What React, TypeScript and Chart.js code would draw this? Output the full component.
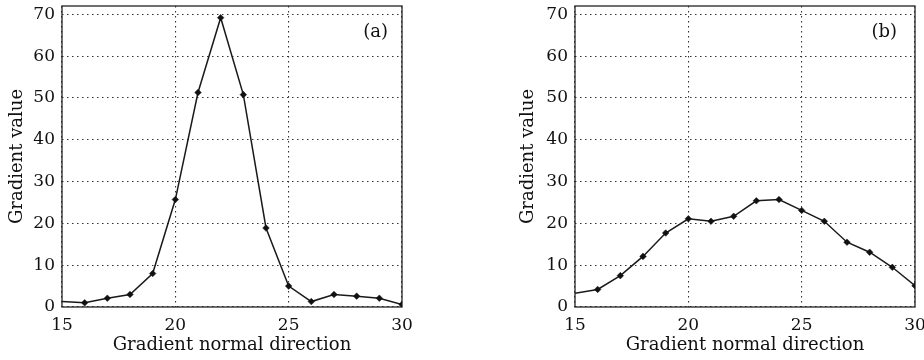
import React, { useEffect, useRef } from "react";
import { Chart, registerables } from "chart.js";

Chart.register(...registerables);

// ---- data ----
const xValues = [15, 16, 17, 18, 19, 20, 21, 22, 23, 24, 25, 26, 27, 28, 29, 30];
const gradientA = [1.3, 1.0, 2.1, 3.0, 8.0, 25.7, 51.3, 69.2, 50.8, 18.9, 5.0, 1.3, 3.0, 2.6, 2.1, 0.6];
const gradientB = [3.3, 4.2, 7.5, 12.1, 17.7, 21.1, 20.5, 21.7, 25.4, 25.7, 23.1, 20.5, 15.5, 13.1, 9.5, 5.1];
const xTicks = [15, 20, 25, 30];
const yTicks = [0, 10, 20, 30, 40, 50, 60, 70];
const panelLabels = ["(a)", "(b)"];
const xTitle = "Gradient normal direction";
const yTitle = "Gradient value";

const SERIF = '"DejaVu Serif", "Liberation Serif", serif';

const framePlugin = {
  id: "frameAndLabel",
  beforeDatasetsDraw(chart: any) {
    const { ctx, chartArea } = chart;
    const { left, top, right, bottom } = chartArea;
    ctx.save();
    ctx.strokeStyle = "#222";
    ctx.lineWidth = 1.3;
    ctx.strokeRect(left, top, right - left, bottom - top);
    ctx.restore();
  },
  afterDraw(chart: any, _args: any, opts: any) {
    const { ctx, chartArea } = chart;
    ctx.save();
    ctx.font = `18px ${SERIF}`;
    ctx.fillStyle = "#111";
    ctx.textAlign = "right";
    ctx.textBaseline = "middle";
    ctx.fillText(opts.label, chartArea.right - opts.inset, chartArea.top + 26);
    ctx.restore();
  },
};

type PanelProps = {
  values: number[];
  label: string;
  padLeft: number;
  padRight: number;
  yAxisWidth: number;
  titlePad: number;
  labelInset: number;
  left: number;
};

function Panel({ values, label, padLeft, padRight, yAxisWidth, titlePad, labelInset, left }: PanelProps) {
  const ref = useRef<HTMLCanvasElement>(null);
  useEffect(() => {
    if (!ref.current) return;
    const chart = new Chart(ref.current, {
      type: "line",
      data: {
        datasets: [
          {
            data: xValues.map((x, i) => ({ x, y: values[i] })),
            borderColor: "#1a1a1a",
            borderWidth: 1.5,
            pointStyle: "rectRot",
            pointRadius: xValues.map((_, i) => (i === 0 ? 0 : 3.3)),
            pointBackgroundColor: "#111",
            pointBorderColor: "#111",
            pointBorderWidth: 0.5,
            tension: 0,
            fill: false,
          },
        ],
      },
      options: {
        responsive: false,
        animation: false,
        events: [],
        layout: { padding: { top: 6, left: padLeft, right: padRight, bottom: 0 } },
        plugins: {
          legend: { display: false },
          tooltip: { enabled: false },
          frameAndLabel: { label, inset: labelInset },
        } as any,
        scales: {
          x: {
            type: "linear",
            min: 15,
            max: 30,
            afterBuildTicks: (s: any) => {
              s.ticks = xTicks.map((v) => ({ value: v }));
            },
            afterFit: (s: any) => {
              s.height = 53;
              s.paddingLeft = 0;
              s.paddingRight = 0;
            },
            ticks: {
              color: "#111",
              font: { family: SERIF, size: 17 },
              padding: 8,
              maxRotation: 0,
              autoSkip: false,
            },
            grid: { color: "#333", lineWidth: 1.1, drawTicks: false },
            border: { display: false, dash: [1.5, 3.5] },
            title: {
              display: true,
              text: xTitle,
              color: "#111",
              font: { family: SERIF, size: 18 },
              padding: { top: 0, bottom: 4 },
            },
          },
          y: {
            type: "linear",
            min: 0,
            max: 72,
            afterBuildTicks: (s: any) => {
              s.ticks = yTicks.map((v) => ({ value: v }));
            },
            afterFit: (s: any) => {
              s.width = yAxisWidth;
              s.paddingTop = 0;
              s.paddingBottom = 0;
            },
            ticks: {
              color: "#111",
              font: { family: SERIF, size: 17 },
              padding: 7,
              autoSkip: false,
            },
            grid: { color: "#333", lineWidth: 1.1, drawTicks: false },
            border: { display: false, dash: [1.5, 3.5] },
            title: {
              display: true,
              text: yTitle,
              color: "#111",
              font: { family: SERIF, size: 18 },
              padding: { top: titlePad, bottom: 0 },
            },
          },
        },
      },
      plugins: [framePlugin],
    });
    return () => chart.destroy();
  }, []);
  return (
    <canvas
      ref={ref}
      width={462}
      height={360}
      style={{ position: "absolute", left, top: 0, width: 462, height: 360 }}
    />
  );
}

export default function App() {
  return (
    <div
      style={{
        position: "absolute",
        left: 0,
        top: 0,
        width: 924,
        height: 360,
        overflow: "hidden",
        background: "#fff",
      }}
    >
      <Panel values={gradientA} label={panelLabels[0]} padLeft={0} padRight={60} yAxisWidth={62} titlePad={7} labelInset={14} left={0} />
      <Panel values={gradientB} label={panelLabels[1]} padLeft={49} padRight={9} yAxisWidth={64} titlePad={7} labelInset={18} left={462} />
    </div>
  );
}
